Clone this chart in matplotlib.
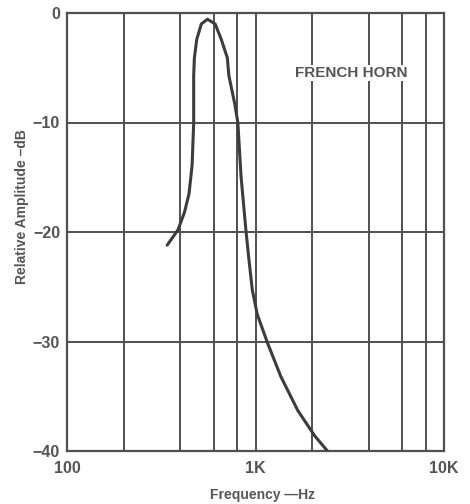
import matplotlib
matplotlib.use("Agg")
import matplotlib.pyplot as plt
from matplotlib.ticker import FixedLocator, NullLocator

# Response curve of a French horn (frequency in Hz, relative amplitude in dB)
freq_hz = [340, 388, 420, 444, 461, 470, 470, 474, 488, 516, 556, 611, 658,
           709, 722, 776, 806, 838, 889, 924, 962, 1021, 1156, 1363, 1676,
           2058, 2407]
level_db = [-21.2, -19.8, -18.2, -16.5, -13.9, -10.0, -5.7, -4.1, -2.4, -1.0,
            -0.57, -1.0, -2.4, -4.1, -5.7, -8.3, -10.0, -14.9, -19.8, -22.6,
            -25.3, -27.5, -30.1, -33.2, -36.3, -38.6, -40.0]

x_ticks = [100, 1000, 10000]
x_tick_labels = ["100", "1K", "10K"]
x_grid = [200, 400, 600, 800, 1000, 2000, 4000, 6000, 8000]
y_ticks = [0, -10, -20, -30, -40]
y_tick_labels = ["0", "\u221210", "\u221220", "\u221230", "\u221240"]

ink = "#505050"
text_ink = "#555555"
plt.rcParams["font.family"] = ["Liberation Sans", "DejaVu Sans"]

fig = plt.figure(figsize=(4.70, 5.04), dpi=100)
fig.patch.set_facecolor("white")
ax = fig.add_axes([67 / 470, 1 - 451 / 504, (444 - 67) / 470, (451 - 13) / 504])

ax.set_xscale("log")
ax.set_xlim(100, 10000)
ax.set_ylim(-40, 0)

# grid
for g in x_grid:
    ax.axvline(g, color=ink, lw=1.4, zorder=1)
for g in y_ticks[1:-1]:
    ax.axhline(g, color=ink, lw=1.4, zorder=1)

ax.plot(freq_hz, level_db, color="#3c3c3c", lw=2.2, solid_capstyle="round",
        solid_joinstyle="round", zorder=3)

for s in ax.spines.values():
    s.set_color(ink)
    s.set_linewidth(1.6)

ax.xaxis.set_major_locator(FixedLocator(x_ticks))
ax.xaxis.set_minor_locator(NullLocator())
ax.set_xticklabels(x_tick_labels)
ax.set_yticks(y_ticks)
ax.set_yticklabels(y_tick_labels)
ax.tick_params(length=0, labelsize=11.5, labelcolor=text_ink)
ax.tick_params(axis="x", pad=7)
ax.tick_params(axis="y", pad=5)
for lab in ax.get_xticklabels() + ax.get_yticklabels():
    lab.set_fontweight("bold")

fig.text(262 / 470, 1 - 495 / 504, "Frequency \u2014Hz", ha="center",
         va="center", fontsize=10, fontweight="bold", color=text_ink)
fig.text(22 / 470, 1 - 207 / 504, "Relative Amplitude \u2013dB", ha="center",
         va="center", rotation=90, fontsize=10, fontweight="bold",
         color=text_ink)

ax.text(0.753, 0.863, "FRENCH HORN", transform=ax.transAxes, ha="center",
        va="center", fontsize=11, fontweight="bold", color=text_ink, zorder=4,
        bbox=dict(facecolor="white", edgecolor="none", pad=0.5))

fig.savefig("out.png", dpi=100, facecolor="white")
